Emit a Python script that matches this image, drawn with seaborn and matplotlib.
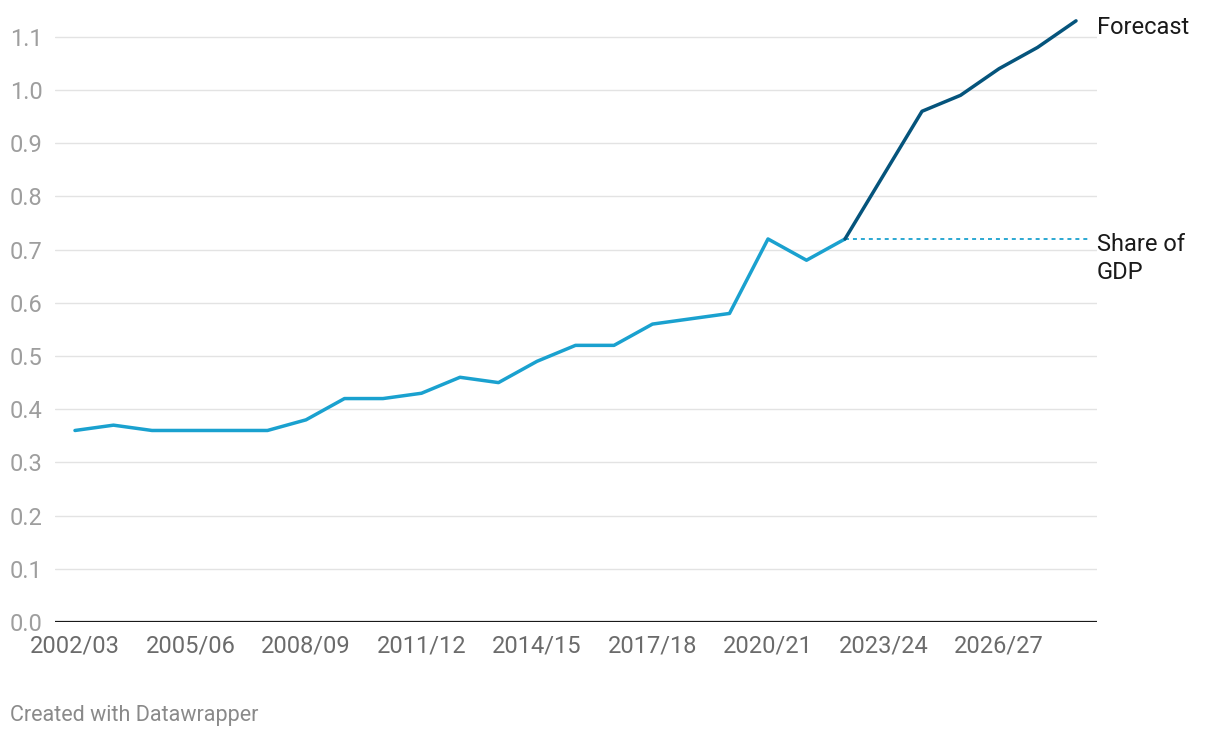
import matplotlib
matplotlib.use("Agg")
import matplotlib.pyplot as plt
import matplotlib.transforms as mtransforms
import seaborn as sns
import pandas as pd

# ---- data ----
years = ["2002/03", "2003/04", "2004/05", "2005/06", "2006/07", "2007/08",
         "2008/09", "2009/10", "2010/11", "2011/12", "2012/13", "2013/14",
         "2014/15", "2015/16", "2016/17", "2017/18", "2018/19", "2019/20",
         "2020/21", "2021/22", "2022/23", "2023/24", "2024/25", "2025/26",
         "2026/27", "2027/28", "2028/29"]
actual = [0.36, 0.37, 0.36, 0.36, 0.36, 0.36, 0.38, 0.42, 0.42, 0.43, 0.46,
          0.45, 0.49, 0.52, 0.52, 0.56, 0.57, 0.58, 0.72, 0.68, 0.72]
forecast_years = ["2022/23", "2023/24", "2024/25", "2025/26", "2026/27",
                  "2027/28", "2028/29"]
forecast = [0.72, 0.84, 0.96, 0.99, 1.04, 1.08, 1.13]
y_ticks = [0.0, 0.1, 0.2, 0.3, 0.4, 0.5, 0.6, 0.7, 0.8, 0.9, 1.0, 1.1]
x_tick_labels = ["2002/03", "2005/06", "2008/09", "2011/12", "2014/15",
                 "2017/18", "2020/21", "2023/24", "2026/27"]

LIGHT = "#1aa1cf"
DARK = "#05547c"

sns.set_theme(style="white")
plt.rcParams["font.family"] = ["Roboto", "DejaVu Sans"]

pos = {y: i for i, y in enumerate(years)}
df_a = pd.DataFrame({"x": [pos[y] for y in years[:len(actual)]], "v": actual})
df_f = pd.DataFrame({"x": [pos[y] for y in forecast_years], "v": forecast})

fig = plt.figure(figsize=(12.2, 7.38), dpi=100)
W, H = 1220, 738
ax = fig.add_axes([55 / W, (H - 622) / H, (1097 - 55) / W, (622 - 10.2) / H])

# horizontal grid
for t in y_ticks[1:]:
    ax.axhline(t, color="#e3e3e3", lw=1.0, zorder=0)
ax.axhline(0, color="#1a1a1a", lw=1.6, zorder=1)

# dotted reference at last actual value
last_x = df_a["x"].iloc[-1]
last_v = df_a["v"].iloc[-1]
ax.plot([last_x, len(years) - 1 + 0.36], [last_v, last_v], color=LIGHT,
        lw=1.3, ls=(0, (2.2, 2.2)), zorder=2)

sns.lineplot(data=df_a, x="x", y="v", ax=ax, color=LIGHT, lw=2.5, zorder=3)
sns.lineplot(data=df_f, x="x", y="v", ax=ax, color=DARK, lw=2.5, zorder=4)

ax.set_xlim(-0.519, len(years) - 1 + 0.545)
ax.set_ylim(0, 1.15)
ax.set_xlabel("")
ax.set_ylabel("")
for s in ax.spines.values():
    s.set_visible(False)

ax.set_yticks(y_ticks)
ax.set_yticklabels([f"{t:.1f}" for t in y_ticks], color="#9e9e9e", fontsize=17)
ax.set_xticks([pos[l] for l in x_tick_labels])
ax.set_xticklabels(x_tick_labels, color="#6b6b6b", fontsize=17)
ax.tick_params(axis="y", length=0, pad=9)
ax.tick_params(axis="x", length=0, pad=9)

# labels
trans = mtransforms.blended_transform_factory(ax.transAxes, ax.transData)
ax.text(1.0, forecast[-1] - 0.013, "Forecast", transform=trans, ha="left",
        va="center", fontsize=17, color="#1a1a1a")
ax.text(1.0, last_v + 0.011, "Share of\nGDP", transform=trans, ha="left",
        va="top", fontsize=17, color="#1a1a1a", linespacing=1.25)

fig.text(10 / W, 1 - 715 / H, "Created with Datawrapper", ha="left",
         va="center", fontsize=15.5, color="#8a8a8a")

fig.savefig("out.png", dpi=100)
